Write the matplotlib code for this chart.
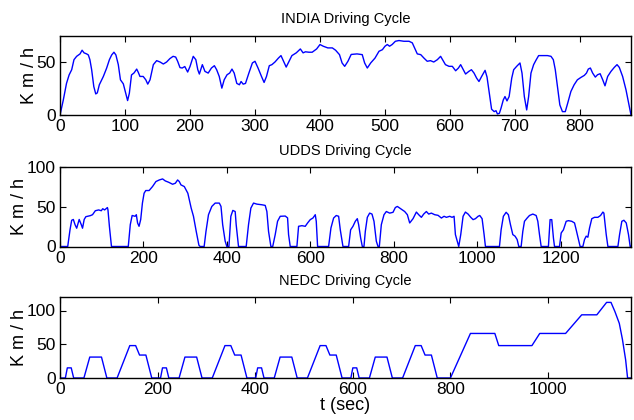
import numpy as np
import matplotlib
matplotlib.use("Agg")
import matplotlib.pyplot as plt

# INDIA driving cycle (sec, km/h)
india_t = [0, 5, 10, 14, 18, 21.5, 25.6, 30.8, 34, 37, 41, 43.6, 46, 48.7, 52, 55, 57.4,
           60.5, 66.7, 71.8, 76, 79.5, 83, 86, 89.7, 93, 97.4, 101, 104, 106.7, 110, 114,
           118, 120.5, 123, 128, 132, 135, 138.5, 143.6, 148.7, 154, 159, 164, 169, 174,
           178, 181, 184.6, 188, 192, 196.4, 200, 205, 209, 212, 214.4, 219, 223, 228,
           233, 237.5, 241, 245, 249, 252.6, 257, 261, 264.6, 268, 272, 276, 278.6, 281.8,
           285.4, 290.6, 296, 300, 304.7, 310, 314, 317.7, 322, 326, 330.7, 336, 340, 344,
           348, 351.6, 356.8, 363.5, 369.8, 374, 377.6, 383, 388, 394.8, 400, 405, 412,
           419, 424, 430, 434, 438, 443, 448, 457, 465, 468.7, 472.8, 478, 484.6, 490.8,
           496, 500, 503.6, 507, 511, 516, 521.5, 529, 537, 542, 545.6, 549.7, 555, 560,
           565, 570, 575, 580.5, 585.6, 589, 593, 598.5, 603.6, 608.7, 613, 616.4, 620.5,
           624, 629, 633, 637, 641, 644.6, 648.7, 654, 657, 660.5, 664, 668, 670.8, 673,
           676, 678.5, 682, 684.6, 687.7, 691, 695, 698, 702.6, 707.7, 710.8, 714.4, 718,
           721, 724.6, 728.7, 732.3, 736.4, 742.6, 750, 755.4, 759, 762, 765.6, 769, 773,
           777.4, 781, 786, 791, 796, 801.5, 806.7, 810, 812.8, 816, 819.5, 823.6, 827,
           831, 835, 838.5, 842.6, 847.7, 852.8, 857, 860.5, 865.6, 870.8, 876, 878.5]
india_v = [0, 14, 30, 38, 43, 52.5, 55.7, 58, 61.5, 59, 58, 57, 52.5, 43, 27, 20, 21,
           28.7, 36.6, 44.6, 52.5, 57, 59.6, 57, 47.8, 33.4, 29.6, 20.7, 13.7, 20.7, 38, 40,
           43.6, 40.4, 36.6, 36.6, 33.4, 29.3, 33.4, 47.8, 51.6, 50.3, 48.4, 50.3, 53.5, 55.7,
           55, 51, 45, 44.6, 46, 40.8, 46, 55.7, 52.5, 43, 38.9, 47.8, 41.4, 39.8,
           44.6, 46.8, 43, 36.6, 25.5, 33.4, 38.2, 39.8, 43.6, 39.8, 30, 28.7, 31.8, 29.3,
           30, 39.8, 49.4, 51, 44.6, 36.6, 30.9, 36.6, 46.8, 47.8, 50.3, 54, 56.4, 51,
           45.5, 50, 56.4, 59, 62.7, 59, 60, 59.6, 59.6, 62.7, 66.9, 65.3, 63.7,
           63.7, 61.5, 57.3, 49.4, 46.2, 51, 57.5, 58, 57.3, 49.4, 44.6, 49.4, 54, 60.5,
           62, 65.3, 66.9, 65.3, 66.9, 70, 70.7, 70, 70, 68.5, 63.7, 58, 57.3, 54,
           51, 51.6, 50.3, 52.5, 55.7, 52, 47.8, 46.2, 46.2, 42, 44.6, 47.8, 43,
           38.9, 41.4, 43, 39.8, 35, 31.8, 36.6, 42.4, 36, 20.7, 5.5, 3.2, 4.1, 1,
           1.6, 6.4, 14.3, 17.5, 13.4, 17.5, 35, 43, 46.2, 49.4, 39.8, 17.5, 4.8,
           17.5, 39.8, 47.8, 52, 56.4, 56.4, 56.4, 55.7, 52.5, 43, 25.5, 9.6, 3.2,
           3.2, 11, 22.3, 28.7, 33.4, 35.7, 37.6, 39.8, 43.6, 44.6, 39.8, 36, 38.2,
           39.2, 33.4, 27.7, 36.6, 41.4, 45.2, 47.8, 45.2, 36.6, 23.9, 8, 0]

# UDDS driving cycle
udds_t = [0, 18.5, 24, 28, 32, 36, 40, 46, 51, 54, 58, 62, 72.6, 78, 84.7, 92.7, 99, 102.4,
          107, 113.7, 115, 118.5, 123.4, 163.7, 168.5, 173, 180, 183, 186, 189.5, 193.5,
          197.6, 201.6, 205.6, 213.7, 221.8, 230, 238, 246, 252.4, 260.5, 270, 276.6, 282,
          286, 290, 298, 306.5, 314.5, 320, 326.6, 333, 336, 345.6, 350, 356, 364, 372,
          382, 386, 390, 396, 400, 405, 409.6, 414.4, 420, 422.4, 428, 446.4, 452, 457.6,
          464, 472, 484, 492, 496, 500, 505.6, 510, 516, 521.6, 528, 540, 545.6, 548, 552,
          568, 572, 580, 588, 593.6, 600, 606.4, 612, 614.4, 617.6, 644, 649.6, 656, 662.4,
          668, 672, 678.4, 692, 696.8, 702.4, 708, 712.8, 716, 720.8, 724.8, 728.8, 732,
          736.8, 742.4, 748, 752.8, 758.4, 762.4, 765.6, 770.4, 776.8, 782.4, 790.4, 798.4,
          804, 808.8, 816.8, 826.4, 832.8, 838.4, 846.4, 854.4, 860, 866.4, 872, 878.4, 884,
          890.4, 898.4, 906.4, 914.4, 920.8, 926.4, 934.4, 940, 944.8, 948, 956, 960.8,
          966.4, 972, 978.4, 984.8, 990.4, 996, 1002.4, 1006.4, 1012, 1016.8, 1020, 1053.6,
          1057.6, 1063, 1069.6, 1075, 1080, 1085.6, 1091, 1096, 1100, 1105.6, 1109.6,
          1113.6, 1120, 1125.6, 1133.6, 1141.6, 1145.6, 1149.6, 1153.6, 1171, 1175, 1179,
          1183, 1185.6, 1197.6, 1201.6, 1207, 1213.6, 1219, 1227, 1233.6, 1237.6, 1243,
          1247, 1253.6, 1257.6, 1261.6, 1265.6, 1269.6, 1275, 1281.6, 1289.6, 1296, 1301.6,
          1304, 1309.6, 1313.6, 1337.6, 1341.6, 1347, 1352, 1357.6, 1363, 1367, 1369]
udds_v = [0, 0, 21, 33, 34, 27.5, 23, 34, 27.5, 23, 34, 37.5, 38.8, 40, 45, 46, 45, 47.5,
          46, 49, 46, 25, 0, 0, 27.5, 39, 38, 40, 29.6, 25.4, 34,
          54.6, 67, 70.4, 70.4, 75.4, 81.7, 83.7, 85, 82.5, 80.8, 78.3, 79.6, 83.7,
          81.7, 77.5, 75.4, 67, 48.3, 38, 19, 1.7, 0, 0, 19, 40, 50.4, 54.6,
          54.6, 50.4, 27.5, 6.7, 0, 0, 38, 45.4, 44, 27.5, 0, 0, 27.5, 48.3,
          54.6, 53.3, 52.5, 51.7, 44, 19, 0, 0, 15, 31.7, 38, 38.3, 36, 15, 0,
          0, 25.4, 26.2, 25.4, 29.6, 33.8, 35.8, 40, 31.7, 0, 0, 23.3, 35.8, 39,
          38, 21, 0, 0, 21, 25.4, 31.7, 35, 27.5, 10.8, 0, 0, 19,
          36.7, 42, 40.8, 31.7, 6.7, 0, 0, 27.5, 40, 44, 42, 43,
          49, 50.4, 47.5, 44, 40, 29.6, 35, 43.3, 40, 36.7, 40.8, 44, 40.8,
          42, 40, 39.2, 35.8, 38, 36.7, 38, 36.7, 38, 15, 0, 15,
          38, 43.3, 40.8, 36.7, 33.8, 35, 38, 39, 35, 15, 0, 0,
          21, 38, 43, 40, 27.5, 15, 13, 8.8, 0, 0, 19,
          31.7, 35.8, 39, 40.8, 39, 31.7, 15, 0, 0, 33.8, 33.8,
          10.8, 0, 0, 17, 21, 31.7, 32.5, 31.7, 29.6, 21, 8.8,
          0, 0, 8.8, 13, 11.7, 23.3, 35, 36.7, 36.7, 39, 43.3,
          42, 15, 0, 0, 15, 31.7, 33, 29.6, 15, 0, 0]

# NEDC driving cycle (4 x ECE + EUDC)
nedc_t = [0, 11, 15, 23, 28, 49, 61, 85, 96, 117, 143, 155, 163, 176, 188,
          206, 210, 218, 223, 244, 256, 280, 291, 312, 338, 350, 358, 371, 383,
          401, 405, 413, 418, 439, 451, 475, 486, 507, 533, 545, 553, 566, 578,
          596, 600, 608, 613, 634, 646, 670, 681, 702, 728, 740, 748, 761, 773,
          800, 841, 891, 899, 967, 983, 1036, 1069, 1100, 1120, 1129, 1137, 1146,
          1152.5, 1159, 1163, 1170]
nedc_v = [0, 0, 15, 15, 0, 0, 31, 31, 0, 0, 48, 48, 34, 34, 0,
          0, 15, 15, 0, 0, 31, 31, 0, 0, 48, 48, 34, 34, 0,
          0, 15, 15, 0, 0, 31, 31, 0, 0, 48, 48, 34, 34, 0,
          0, 15, 15, 0, 0, 31, 31, 0, 0, 48, 48, 34, 34, 0,
          0, 66, 66, 48, 48, 66, 66, 93.6, 93.6, 112, 112, 98.5, 81,
          57, 27, 0, 0]

plt.rcParams['font.family'] = ['Liberation Sans', 'DejaVu Sans']

fig = plt.figure(figsize=(6.34, 4.2), dpi=100)
W, H = 634.0, 420.0
left, right = 60 / W, 631 / W

panels = [
    ("INDIA Driving Cycle", india_t, india_v, 878.5, 75, [0, 50], 36, 115),
    ("UDDS Driving Cycle", udds_t, udds_v, 1369, 100, [0, 50, 100], 167, 246.5),
    ("NEDC Driving Cycle", nedc_t, nedc_v, 1170, 120, [0, 50, 100], 297, 378),
]

for title, t, v, xmax, ymax, yt, top, bot in panels:
    ax = fig.add_axes([left, 1 - bot / H, right - left, (bot - top) / H])
    ax.plot(t, v, color='#0000ff', lw=1.0)
    ax.set_xlim(0, xmax)
    ax.set_ylim(0, ymax)
    ax.set_yticks(yt)
    ax.set_title(title, fontsize=10.5, pad=9)
    ax.set_ylabel('K m / h', fontsize=13, labelpad=-1)
    ax.tick_params(direction='in', top=True, right=True, length=4, width=0.8,
                   labelsize=12.5, pad=3)
    for s in ax.spines.values():
        s.set_linewidth(1.0)

ax.set_xlabel('t (sec)', fontsize=13, labelpad=0)

fig.savefig('out.png', dpi=100)
